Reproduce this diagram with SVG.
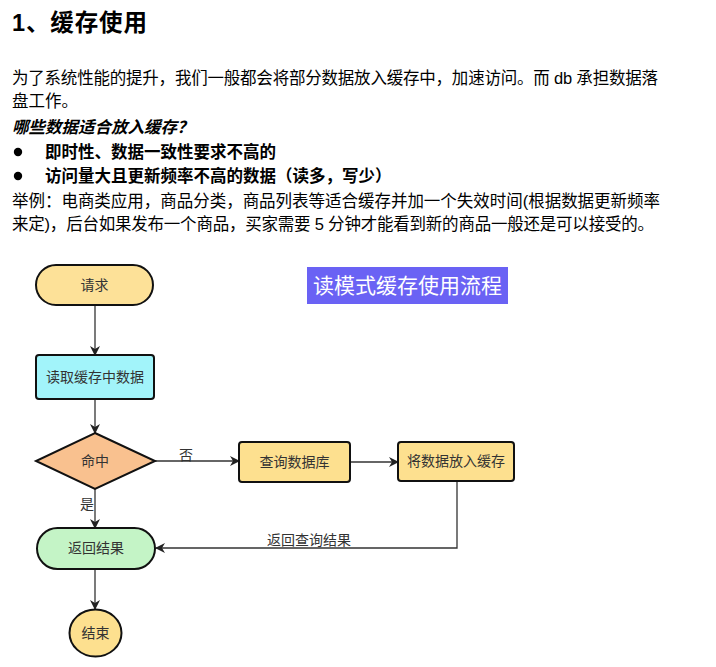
<svg xmlns="http://www.w3.org/2000/svg" width="716" height="667" viewBox="0 0 716 667">
<style>
.t{font-family:"Liberation Sans","Noto Sans CJK SC",sans-serif;fill:#000}
.p{font-size:16.5px}
.b{font-weight:bold}
.n{font-family:"Noto Sans CJK SC","Liberation Sans",sans-serif;font-size:14px;fill:#333;text-anchor:middle}
.sh{stroke:#111;stroke-width:2}
.c{stroke:#333;stroke-width:1.3;fill:none}
</style>
<defs>
<marker id="ah" markerWidth="10" markerHeight="10" refX="9" refY="5" orient="auto" markerUnits="userSpaceOnUse">
<path d="M0,0 L10,5 L0,10 L3,5 Z" fill="#222"/>
</marker>
</defs>
<rect width="716" height="667" fill="#fff"/>
<text class="t b" x="12" y="31" font-size="23.5" textLength="135" lengthAdjust="spacing">1、缓存使用</text>
<text class="t p" x="12" y="84" textLength="646" lengthAdjust="spacing">为了系统性能的提升，我们一般都会将部分数据放入缓存中，加速访问。而 db 承担数据落</text>
<text class="t p" x="12" y="107">盘工作。</text>
<text class="t p b" x="12" y="133" font-style="italic">哪些数据适合放入缓存？</text>
<circle cx="18" cy="152" r="4.2" fill="#000"/>
<text class="t p b" x="45" y="158">即时性、数据一致性要求不高的</text>
<circle cx="18" cy="176" r="4.2" fill="#000"/>
<text class="t p b" x="45" y="182">访问量大且更新频率不高的数据（读多，写少）</text>
<text class="t p" x="12" y="207" textLength="648" lengthAdjust="spacing">举例：电商类应用，商品分类，商品列表等适合缓存并加一个失效时间(根据数据更新频率</text>
<text class="t p" x="12" y="230" textLength="642" lengthAdjust="spacing">来定)，后台如果发布一个商品，买家需要 5 分钟才能看到新的商品一般还是可以接受的。</text>

<g id="title">
<rect x="307" y="267" width="201" height="37" fill="#6A62F4"/>
<text x="407.5" y="293" font-family="Noto Sans CJK SC,sans-serif" font-size="21" fill="#fff" text-anchor="middle">读模式缓存使用流程</text>
</g>

<g id="connectors">
<line class="c" x1="95" y1="305" x2="95" y2="355" marker-end="url(#ah)"/>
<line class="c" x1="95" y1="399" x2="95" y2="433" marker-end="url(#ah)"/>
<line class="c" x1="155" y1="461" x2="239" y2="461" marker-end="url(#ah)"/>
<line class="c" x1="350" y1="462" x2="398" y2="462" marker-end="url(#ah)"/>
<polyline class="c" points="457,481 457,548 156,548" marker-end="url(#ah)"/>
<line class="c" x1="95" y1="489" x2="95" y2="528" marker-end="url(#ah)"/>
<line class="c" x1="95" y1="569" x2="95" y2="609" marker-end="url(#ah)"/>
<text class="n" x="186" y="460">否</text>
<text class="n" x="87" y="509">是</text>
<text class="n" x="309" y="545">返回查询结果</text>
</g>

<g id="request">
<rect class="sh" x="36" y="265" width="117" height="40" rx="20" fill="#FDE198"/>
<text class="n" x="94.5" y="290">请求</text>
</g>
<g id="readCache">
<rect class="sh" x="36" y="355" width="118" height="44" rx="3" fill="#A2F4FA"/>
<text class="n" x="95" y="382">读取缓存中数据</text>
</g>
<g id="hit">
<polygon class="sh" points="95,433 155,461 95,489 36,461" fill="#F9C18F"/>
<text class="n" x="95" y="466">命中</text>
</g>
<g id="queryDb">
<rect class="sh" x="239" y="442" width="111" height="40" rx="3" fill="#FDE08F"/>
<text class="n" x="294.5" y="467">查询数据库</text>
</g>
<g id="putCache">
<rect class="sh" x="398" y="442" width="116" height="39" rx="3" fill="#FDE08F"/>
<text class="n" x="456" y="466">将数据放入缓存</text>
</g>
<g id="returnResult">
<rect class="sh" x="37" y="528" width="118" height="41" rx="20.5" fill="#C4F4C6"/>
<text class="n" x="96" y="553">返回结果</text>
</g>
<g id="end">
<ellipse class="sh" cx="95.5" cy="633" rx="26" ry="23.5" fill="#FDE08F"/>
<text class="n" x="95.5" y="638">结束</text>
</g>
</svg>
